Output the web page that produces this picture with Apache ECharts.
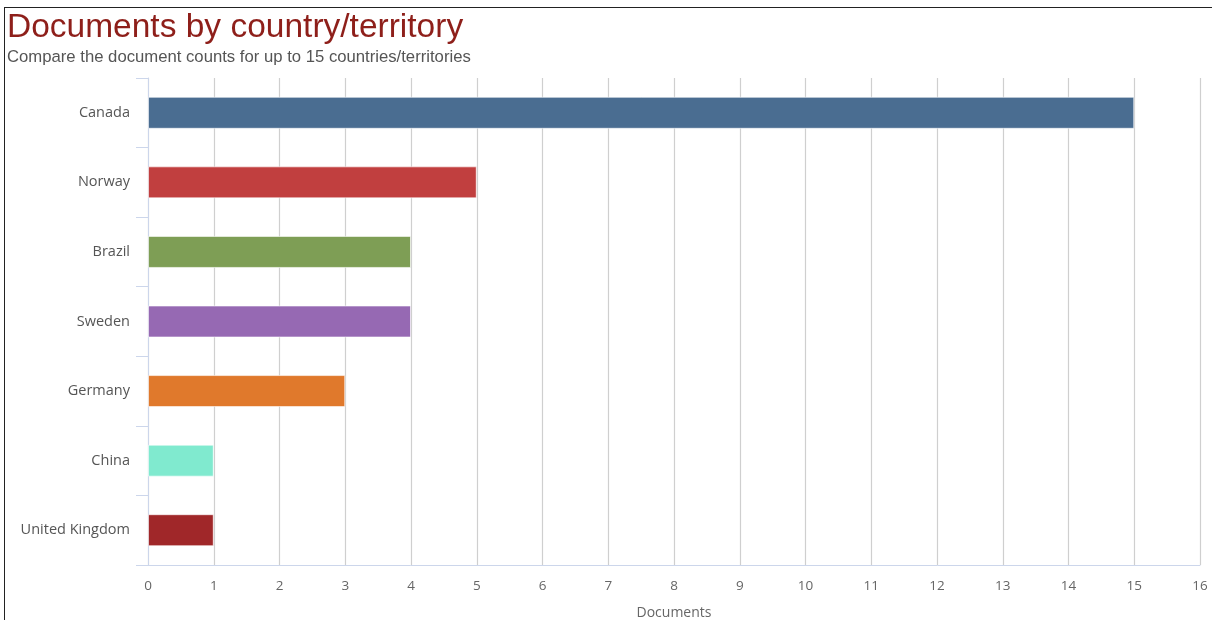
<!DOCTYPE html>
<html>
<head>
<meta charset="utf-8">
<script src="https://cdn.jsdelivr.net/npm/echarts@6/dist/echarts.min.js"></script>
<style>
  html, body { margin: 0; padding: 0; background: #fff; overflow: hidden; }
  #frame { position: absolute; left: 4px; top: 7px; width: 1207px; height: 612px;
           border-left: 1px solid #222; border-top: 1px solid #222; }
  #chart { position: absolute; left: 0; top: 0; width: 1212px; height: 620px; }
</style>
</head>
<body>
<div id="frame"></div>
<div id="chart"></div>
<script>
// Document counts per country/territory
const countries = ['Canada', 'Norway', 'Brazil', 'Sweden', 'Germany', 'China', 'United Kingdom'];
const documents = [15, 5, 4, 4, 3, 1, 1];
const barColors = ['#4a6d91', '#c13f3f', '#7e9e55', '#9669b3', '#e0792c', '#80eacf', '#a02729'];

const chart = echarts.init(document.getElementById('chart'), null, { renderer: 'canvas' });

chart.setOption({
  animation: false,
  title: [
    {
      text: 'Documents by country/territory',
      left: 7, top: 11, padding: 0,
      textStyle: { fontFamily: 'Liberation Sans', fontSize: 33.5, fontWeight: 'normal', color: '#8e1f1a' }
    },
    {
      text: 'Compare the document counts for up to 15 countries/territories',
      left: 7, top: 49, padding: 0,
      textStyle: { fontFamily: 'Liberation Sans', fontSize: 16.7, fontWeight: 'normal', color: '#555555' }
    }
  ],
  grid: { left: 148, right: 12, top: 78, bottom: 55, containLabel: false, outerBoundsMode: 'none' },
  xAxis: {
    type: 'value',
    min: 0, max: 16, interval: 1,
    name: 'Documents',
    nameLocation: 'middle',
    nameGap: 41,
    nameTextStyle: { fontFamily: 'Open Sans', fontSize: 14, color: '#666666' },
    axisLine: { show: true, lineStyle: { color: '#ccd6eb', width: 1 } },
    axisTick: { show: false },
    axisLabel: { margin: 14, fontFamily: 'Open Sans', fontSize: 13.5, color: '#666666' },
    splitLine: { show: true, lineStyle: { color: '#cfcfcf', width: 1.2 } }
  },
  yAxis: {
    type: 'category',
    data: countries,
    inverse: true,
    axisLine: { show: true, lineStyle: { color: '#ccd6eb', width: 1 } },
    axisTick: { show: true, length: 12, lineStyle: { color: '#ccd6eb', width: 1 } },
    axisLabel: { margin: 18, fontFamily: 'Open Sans', fontSize: 14.5, color: '#555555' },
    splitLine: { show: false }
  },
  series: [{
    type: 'bar',
    data: documents.map((v, i) => ({ value: v, itemStyle: { color: barColors[i] } })),
    barWidth: 32,
    itemStyle: { borderColor: 'rgba(255,255,255,0.6)', borderWidth: 1 }
  }]
});
</script>
</body>
</html>
